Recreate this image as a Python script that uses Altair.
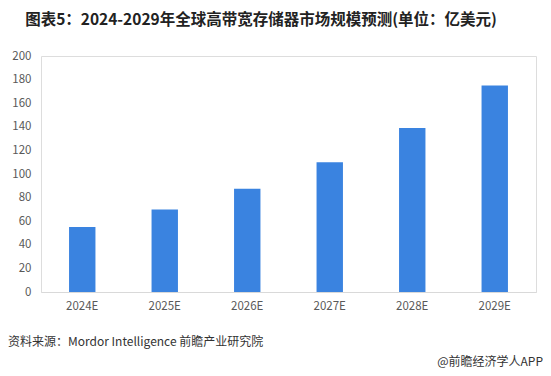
import altair as alt
import pandas as pd

years = ["2024E", "2025E", "2026E", "2027E", "2028E", "2029E"]
values = [55, 70, 87.5, 110, 139, 175]
y_ticks = [0, 20, 40, 60, 80, 100, 120, 140, 160, 180, 200]
title_text = "图表5：2024-2029年全球高带宽存储器市场规模预测(单位：亿美元)"
source_text = "资料来源：Mordor Intelligence 前瞻产业研究院"
credit_text = "@前瞻经济学人APP"

df = pd.DataFrame({"year": years, "value": values})
FONT = "Noto Sans CJK SC"

bars = alt.Chart(df).mark_bar(color="#3A83E0").encode(
    x=alt.X("year:N", sort=years, title=None,
            scale=alt.Scale(paddingInner=0.68, paddingOuter=0.34),
            axis=alt.Axis(labelAngle=0, labelColor="#595959", labelFontSize=11.5,
                          labelFont=FONT, domainColor="#D9D9D9", ticks=False,
                          labelPadding=8)),
    y=alt.Y("value:Q", title=None,
            scale=alt.Scale(domain=[0, 200], nice=False),
            axis=alt.Axis(values=y_ticks, grid=False, domain=False, ticks=False,
                          labelColor="#595959", labelFontSize=11.5, labelFont=FONT,
                          labelPadding=10)),
)

title = alt.Chart(pd.DataFrame({"t": [title_text]})).mark_text(
    font=FONT, fontSize=15.5, fontWeight="bold", color="#222222", align="center", baseline="middle"
).encode(text="t:N", x=alt.value(220), y=alt.value(-36))

source = alt.Chart(pd.DataFrame({"t": [source_text]})).mark_text(
    font=FONT, fontSize=12, color="#333333", align="left", baseline="middle"
).encode(text="t:N", x=alt.value(-33), y=alt.value(286))

credit = alt.Chart(pd.DataFrame({"t": [credit_text]})).mark_text(
    font=FONT, fontSize=12, color="#333333", align="right", baseline="middle"
).encode(text="t:N", x=alt.value(502), y=alt.value(306))

chart = alt.layer(bars, title, source, credit).properties(
    width=495, height=236,
    autosize=alt.AutoSizeParams(type="none"),
    padding={"left": 33, "top": 48, "right": 7, "bottom": 76},
).configure_view(stroke=None).configure(background="white")

chart.save("out.html", embed_options={"renderer": "svg", "actions": False})
